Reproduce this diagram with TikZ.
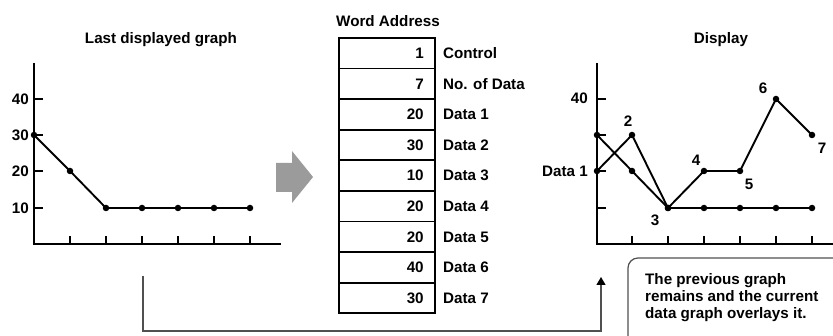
\documentclass[tikz,border=0pt]{standalone}
\usepackage{fontspec}
\setmainfont{Liberation Sans}
\usetikzlibrary{arrows.meta}
\definecolor{arrgray}{RGB}{155,155,155}
\definecolor{lnk}{RGB}{80,80,80}
\begin{document}
\begin{tikzpicture}[x=1pt,y=-1pt,
  txt/.style={font=\fontsize{15.2}{17}\selectfont\bfseries, inner sep=0pt},
  axisline/.style={line width=2pt},
  tickline/.style={line width=1.2pt},
  curve/.style={line width=1.9pt, line join=round},
  dot/.style={circle, fill=black, inner sep=0pt, minimum size=6.5pt},
  cell/.style={draw, line width=1.8pt, minimum width=96pt, minimum height=30.6pt, inner sep=0pt},
]
\useasboundingbox (0,0) rectangle (833,336);

% ---------- Left graph ----------
\node[txt] (ltitle) at (161,40) {Last displayed graph};
\coordinate (lo) at (34,244);
\coordinate (ltop) at (34,63);
\coordinate (lright) at (281,244);
\draw[axisline] (ltop) -- (lo) -- (lright);
\foreach \y/\v in {99/40,135/30,171/20,208/10}{
  \draw[tickline] (34,\y) -- (43,\y);
  \node[txt, anchor=east] (ly\v) at (29,\y) {\v};
}
\foreach \x in {70,106,142,178,214,250}{
  \draw[tickline] (\x,244) -- (\x,236);
}
\foreach \n/\x/\y in {1/34/135,2/70/171,3/106/208,4/142/208,5/178/208,6/214/208,7/250/208}{
  \node[dot] (lp\n) at (\x,\y) {};
}
\draw[curve] (lp1.center) -- (lp2.center) -- (lp3.center) -- (lp4.center) -- (lp5.center) -- (lp6.center) -- (lp7.center);

% ---------- Gray arrow ----------
\fill[arrgray] (276,163) -- (292,163) -- (292,151) -- (313,177) -- (292,203) -- (292,192) -- (276,192) -- cycle;

% ---------- Table ----------
\node[txt] (wtitle) at (388,21) {Word Address};
\foreach \i/\num/\lab in {0/1/Control,1/7/No. of Data,2/20/Data 1,3/30/Data 2,4/10/Data 3,5/20/Data 4,6/20/Data 5,7/40/Data 6,8/30/Data 7}{
  \node[cell] (c\i) at (387,{38+30.6*(\i+0.5)}) {};
  \node[txt, anchor=east] (n\i) at ([xshift=-12pt]c\i.east) {\num};
  \node[txt, anchor=west] (t\i) at ([xshift=7pt]c\i.east) {\lab};
}

% ---------- Right graph ----------
\node[txt] (rtitle) at (721,40) {Display};
\coordinate (ro) at (597,244);
\coordinate (rtop) at (597,63);
\coordinate (rright) at (840,244);
\draw[axisline] (rtop) -- (ro) -- (rright);
\foreach \y in {99,135,171,208}{
  \draw[tickline] (597,\y) -- (606,\y);
}
\foreach \x in {632,668,704,740,776,812}{
  \draw[tickline] (\x,244) -- (\x,236);
}
\node[txt, anchor=east] (r40) at (588,98) {40};
\node[txt, anchor=east] (rd1) at (588,171) {Data 1};
% previous graph
\foreach \n/\x/\y in {1/597/135,2/632/171,3/668/208,4/704/208,5/740/208,6/776/208,7/812/208}{
  \node[dot] (op\n) at (\x,\y) {};
}
\draw[curve] (op1.center) -- (op2.center) -- (op3.center) -- (op4.center) -- (op5.center) -- (op6.center) -- (op7.center);
% current graph
\foreach \n/\x/\y in {1/597/171,2/632/135,3/668/208,4/704/171,5/740/171,6/776/99,7/812/135}{
  \node[dot] (np\n) at (\x,\y) {};
}
\draw[curve] (np1.center) -- (np2.center) -- (np3.center) -- (np4.center) -- (np5.center) -- (np6.center) -- (np7.center);
\node[txt] (lb2) at (628,121) {2};
\node[txt] (lb3) at (655,220) {3};
\node[txt] (lb4) at (696,160) {4};
\node[txt] (lb5) at (749,184) {5};
\node[txt] (lb6) at (763,88) {6};
\node[txt] (lb7) at (822,148) {7};

% ---------- Connector ----------
\coordinate (cstart) at (143,276);
\coordinate (cend) at (601,277);
\draw[lnk, line width=1.3pt, -{Triangle[length=8pt,width=9pt,color=black]}] (cstart) -- ++(0,55) -| (cend);

% ---------- Callout ----------
\begin{scope}
\clip (0,0) rectangle (833,336);
\draw[lnk, line width=1.2pt, rounded corners=10pt] (628,258) rectangle (860,360);
\end{scope}
\node[txt, anchor=north west, align=left] (note) at (645,273) {The previous graph\\remains and the current\\data graph overlays it.};
\end{tikzpicture}
\end{document}
